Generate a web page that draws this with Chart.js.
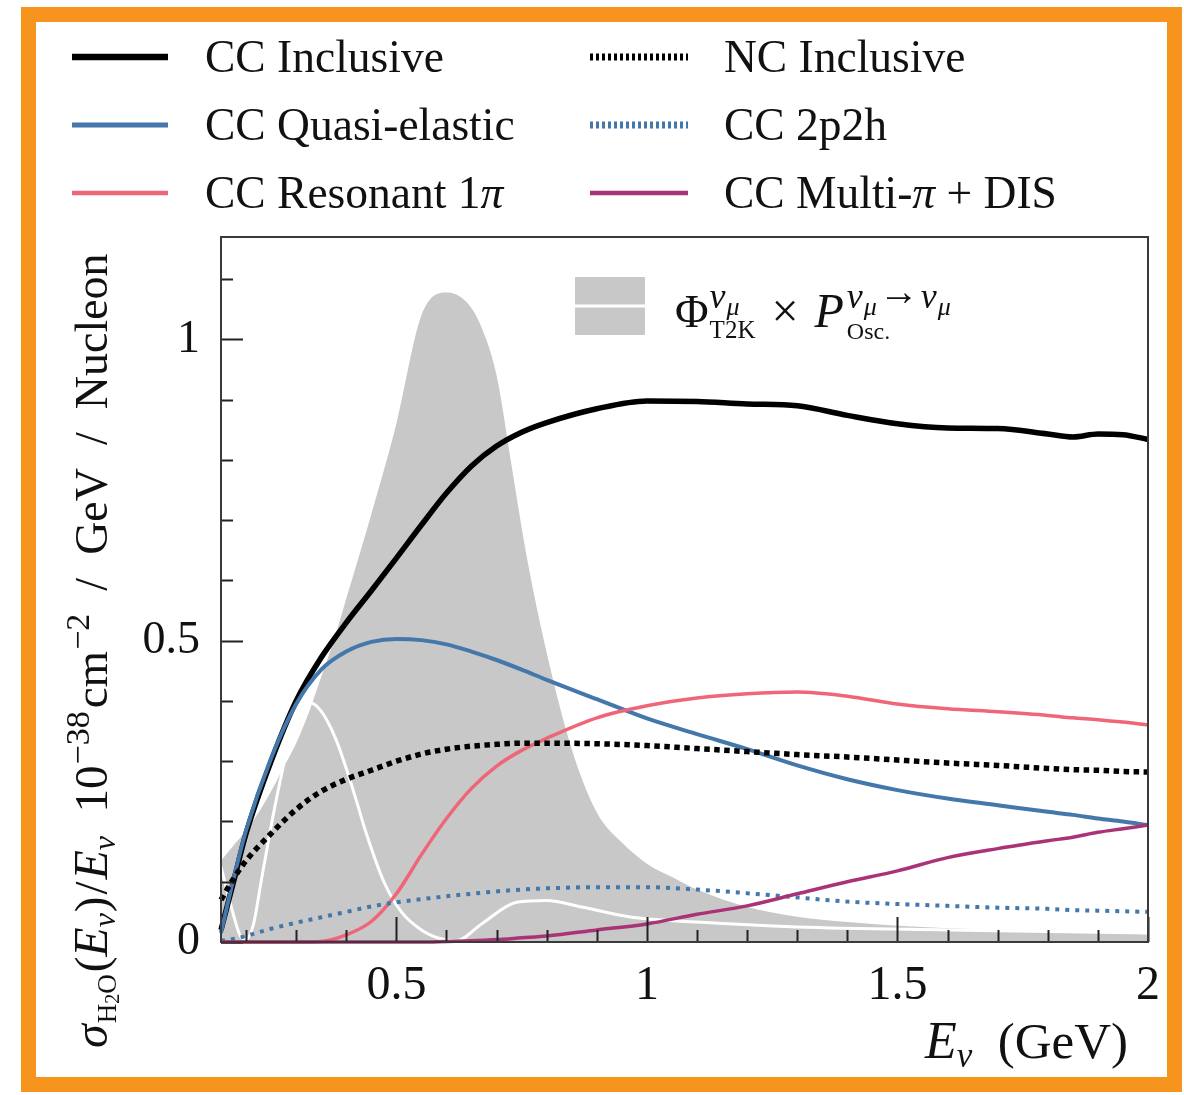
<!DOCTYPE html>
<html>
<head>
<meta charset="utf-8">
<script src="https://cdn.jsdelivr.net/npm/chart.js@4.4.1/dist/chart.umd.min.js"></script>
<style>
    html, body { margin: 0; padding: 0; background: #fff; }
    #frame { position: absolute; left: 21px; top: 7px; width: 1161px; height: 1085px; box-sizing: border-box; border: 15px solid #f7941d; }
    #wrap { position: absolute; left: 0; top: 0; width: 1184px; height: 1095px; }
</style>
</head>
<body>
<div id="frame"></div>
<div id="wrap"><canvas id="xsecChart" width="1184" height="1095"></canvas></div>
<script>
// Cross sections per nucleon on water, divided by E (1e-38 cm^2 / GeV).
const E_XSEC = [0.15, 0.175, 0.2, 0.25, 0.3, 0.35, 0.4, 0.45, 0.5, 0.55, 0.6, 0.65, 0.7, 0.75, 0.8, 0.9,
                1.0, 1.1, 1.2, 1.3, 1.4, 1.5, 1.6, 1.7, 1.8, 1.85, 1.9, 1.95, 2.0];
const CC_INCL  = [0.02, 0.10, 0.18, 0.30, 0.40, 0.472, 0.53, 0.583, 0.637, 0.692, 0.745, 0.79, 0.823, 0.846, 0.862, 0.885,
                  0.898, 0.897, 0.893, 0.89, 0.874, 0.86, 0.853, 0.852, 0.843, 0.838, 0.843, 0.842, 0.834];
const CC_QE    = [0.015, 0.105, 0.185, 0.305, 0.395, 0.452, 0.482, 0.498, 0.503, 0.501, 0.494, 0.482, 0.468, 0.452, 0.435, 0.403,
                  0.371, 0.345, 0.32, 0.293, 0.27, 0.252, 0.238, 0.227, 0.216, 0.211, 0.205, 0.2, 0.194];
const CC_RES   = [0, 0, 0, 0, 0, 0.001, 0.012, 0.034, 0.08, 0.145, 0.205, 0.255, 0.292, 0.318, 0.338, 0.372,
                  0.392, 0.405, 0.412, 0.415, 0.408, 0.395, 0.387, 0.382, 0.376, 0.372, 0.369, 0.365, 0.36];
const NC_INCL  = [0.07, 0.105, 0.135, 0.18, 0.22, 0.25, 0.27, 0.285, 0.3, 0.312, 0.32, 0.325, 0.328, 0.33, 0.33, 0.329,
                  0.326, 0.321, 0.316, 0.311, 0.307, 0.302, 0.297, 0.293, 0.288, 0.286, 0.285, 0.283, 0.282];
const CC_2P2H  = [0.002, 0.005, 0.01, 0.022, 0.032, 0.041, 0.05, 0.059, 0.066, 0.071, 0.076, 0.08, 0.084, 0.087, 0.089, 0.091,
                  0.091, 0.087, 0.081, 0.074, 0.067, 0.063, 0.06, 0.057, 0.055, 0.053, 0.052, 0.051, 0.05];
const CC_MULTI = [0, 0, 0, 0, 0, 0, 0, 0, 0, 0, 0.001, 0.002, 0.004, 0.007, 0.01, 0.02,
                  0.03, 0.046, 0.06, 0.08, 0.1, 0.118, 0.14, 0.155, 0.168, 0.174, 0.182, 0.188, 0.194];

// T2K flux shape (grey) and the oscillated flux (white line), arbitrary normalisation.
const E_FLUX = [0.15, 0.175, 0.2, 0.225, 0.25, 0.275, 0.3, 0.325, 0.35, 0.375, 0.4, 0.45, 0.5, 0.55, 0.6, 0.64,
                0.67, 0.7, 0.73, 0.76, 0.8, 0.85, 0.9, 0.95, 1.0, 1.05, 1.1, 1.2, 1.3, 1.4, 1.5, 1.7, 2.0];
const FLUX   = [0.135, 0.16, 0.185, 0.215, 0.25, 0.29, 0.33, 0.38, 0.44, 0.5, 0.57, 0.71, 0.86, 1.04, 1.078, 1.062,
                1.02, 0.94, 0.79, 0.64, 0.48, 0.32, 0.215, 0.165, 0.13, 0.108, 0.087, 0.058, 0.042, 0.033, 0.027, 0.02, 0.013];
const E_OSC  = [0.15, 0.17, 0.19, 0.2, 0.215, 0.23, 0.26, 0.29, 0.31, 0.328, 0.345, 0.36, 0.38, 0.4, 0.42, 0.44,
                0.475, 0.51, 0.55, 0.59, 0.62, 0.67, 0.74, 0.8, 0.87, 0.97, 1.1, 1.3, 1.6, 2.0];
const OSC    = [0.125, 0.06, 0.008, 0.004, 0.03, 0.1, 0.235, 0.345, 0.385, 0.397, 0.388, 0.37, 0.335, 0.288, 0.235, 0.18,
                0.1, 0.05, 0.02, 0.005, 0.002, 0.03, 0.066, 0.069, 0.058, 0.041, 0.033, 0.025, 0.02, 0.015];

const X_TICKS = [0.2, 0.3, 0.4, 0.5, 0.6, 0.7, 0.8, 0.9, 1.0, 1.1, 1.2, 1.3, 1.4, 1.5, 1.6, 1.7, 1.8, 1.9, 2.0];
const X_MAJOR = [0.5, 1, 1.5, 2];
const X_LABELS = ['0.5', '1', '1.5', '2'];
const Y_TICKS = [0, 0.1, 0.2, 0.3, 0.4, 0.5, 0.6, 0.7, 0.8, 0.9, 1.0, 1.1];
const Y_MAJOR = [0, 0.5, 1];
const Y_LABELS = ['0', '0.5', '1'];

const SERIF = "'Liberation Serif', 'DejaVu Serif', serif";
const BLUE = '#4477aa', RED = '#ee6677', PURPLE = '#aa3377', GREY = '#c8c8c8';

const pts = (xs, ys) => xs.map((x, i) => ({ x, y: ys[i] }));
const near = (arr, v) => arr.findIndex(a => Math.abs(a - v) < 1e-6);

// legend: [column, row, label, dataset index]
const LEGEND = [
    [0, 0, 'CC Inclusive', 2], [0, 1, 'CC Quasi-elastic', 3], [0, 2, 'CC Resonant 1π', 4],
    [1, 0, 'NC Inclusive', 5], [1, 1, 'CC 2p2h', 6], [1, 2, 'CC Multi-π + DIS', 7],
];

function line(label, xs, ys, color, width, dash, order) {
    return {
        label, data: pts(xs, ys), borderColor: color, backgroundColor: color, borderWidth: width,
        borderDash: dash || [], pointRadius: 0, cubicInterpolationMode: 'monotone', fill: false,
        clip: false, order, legendDash: dash,
    };
}

const datasets = [
    { label: 'flux', data: pts(E_FLUX, FLUX), borderWidth: 0, borderColor: 'rgba(0,0,0,0)', backgroundColor: GREY,
      fill: 'origin', pointRadius: 0, cubicInterpolationMode: 'monotone', order: 20 },
    line('osc', E_OSC, OSC, '#ffffff', 3, null, 19),
    line('CC Inclusive', E_XSEC, CC_INCL, '#000000', 5.5, null, 8),
    line('CC Quasi-elastic', E_XSEC, CC_QE, BLUE, 4, null, 7),
    line('CC Resonant 1π', E_XSEC, CC_RES, RED, 3.5, null, 6),
    line('NC Inclusive', E_XSEC, NC_INCL, '#000000', 5.5, [5.5, 4.5], 5),
    line('CC 2p2h', E_XSEC, CC_2P2H, BLUE, 4, [4, 6], 4),
    line('CC Multi-π + DIS', E_XSEC, CC_MULTI, PURPLE, 3.5, null, 3),
];

// Draw a run of text pieces (sub/superscripts) from (x, y); returns the width.
function drawRich(ctx, x, y, parts, measureOnly) {
    let cx = x, mark = x, supEnd = x;
    parts.forEach(p => {
        if (p.mark) mark = cx;
        if (p.back) { supEnd = cx; cx = mark; }
        ctx.font = (p.it ? 'italic ' : '') + p.size + 'px ' + SERIF;
        if (!measureOnly) ctx.fillText(p.t, cx, y + (p.dy || 0));
        cx += ctx.measureText(p.t).width + (p.gap || 0);
        if (p.back) cx = Math.max(cx, supEnd);
    });
    return cx - x;
}

function textParts(label, size) {
    const out = [];
    label.split('π').forEach((s, i) => {
        if (i > 0) out.push({ t: 'π', it: true, size });
        if (s) out.push({ t: s, size });
    });
    return out;
}

const decor = {
    id: 'decor',
    afterDatasetsDraw(chart) {
        const { ctx, chartArea: a, scales: { x, y } } = chart;
        ctx.save();
        ctx.strokeStyle = '#222';
        ctx.lineWidth = 2;
        ctx.beginPath();
        X_TICKS.forEach(v => {
            const px = Math.round(x.getPixelForValue(v)) + 0.5;
            const len = near(X_MAJOR, v) >= 0 ? 25 : 12;
            ctx.moveTo(px, a.bottom); ctx.lineTo(px, a.bottom - len);
        });
        Y_TICKS.forEach(v => {
            const py = Math.round(y.getPixelForValue(v)) + 0.5;
            const len = near(Y_MAJOR, v) >= 0 ? 22 : 12;
            ctx.moveTo(a.left, py); ctx.lineTo(a.left + len, py);
        });
        ctx.stroke();
        ctx.strokeStyle = '#3a3a3a';
        ctx.strokeRect(a.left, a.top, a.right - a.left, a.bottom - a.top);
        ctx.restore();
    },
    afterDraw(chart) {
        const { ctx } = chart;
        const ds = chart.data.datasets;
        ctx.save();
        ctx.fillStyle = '#111';
        ctx.textBaseline = 'alphabetic';

        // top legend, two columns of three
        const colLine = [[72, 168], [590, 688]], colText = [205, 724], rowY = [57, 125, 193];
        LEGEND.forEach(([c, r, label, idx]) => {
            const d = ds[idx];
            const yy = rowY[r];
            ctx.strokeStyle = d.borderColor;
            ctx.lineWidth = d.legendDash ? 7 : d.borderWidth + 1;
            ctx.setLineDash(d.legendDash ? [3, 3] : []);
            ctx.beginPath();
            ctx.moveTo(colLine[c][0], yy); ctx.lineTo(colLine[c][1], yy);
            ctx.stroke();
            ctx.setLineDash([]);
            drawRich(ctx, colText[c], yy + 15, textParts(label, 45.5));
        });

        // flux legend inside the plot
        ctx.fillStyle = ds[0].backgroundColor;
        ctx.fillRect(575, 277, 70, 58);
        ctx.strokeStyle = ds[1].borderColor;
        ctx.lineWidth = 3;
        ctx.beginPath(); ctx.moveTo(575, 306); ctx.lineTo(645, 306); ctx.stroke();
        ctx.fillStyle = '#111';
        drawRich(ctx, 675, 327, [
            { t: 'Φ', size: 46, gap: 1 },
            { t: 'ν', it: true, size: 36, dy: -19, mark: true, gap: 1 }, { t: 'μ', it: true, size: 26, dy: -12 },
            { t: 'T2K', size: 25, dy: 11, back: true, gap: 4 },
            { t: ' × ', size: 48, gap: 4 },
            { t: 'P', it: true, size: 48, gap: 3 },
            { t: 'ν', it: true, size: 36, dy: -19, mark: true, gap: 1 }, { t: 'μ', it: true, size: 26, dy: -12, gap: 2 },
            { t: '→', size: 40, dy: -22, gap: 2 },
            { t: 'ν', it: true, size: 36, dy: -19, gap: 1 }, { t: 'μ', it: true, size: 26, dy: -12 },
            { t: 'Osc.', size: 24, dy: 12, back: true },
        ]);

        // x title, right-aligned
        const xt = [{ t: 'E', it: true, size: 52 }, { t: 'ν', it: true, size: 35, dy: 9 }, { t: '  (GeV)', size: 51 }];
        const w = drawRich(ctx, 0, 0, xt, true);
        drawRich(ctx, 1128 - w, 1058, xt);

        // y title, rotated
        ctx.translate(107, 1048);
        ctx.rotate(-Math.PI / 2);
        drawRich(ctx, 0, 0, [
            { t: 'σ', it: true, size: 48, gap: 1 },
            { t: 'H', size: 27, dy: 9 }, { t: '2', size: 20, dy: 12 }, { t: 'O', size: 27, dy: 9, gap: 2 },
            { t: '(', size: 47 }, { t: 'E', it: true, size: 48 }, { t: 'ν', it: true, size: 32, dy: 8, gap: 1 }, { t: ')', size: 47, gap: 2 },
            { t: '/', size: 47, gap: 2 }, { t: 'E', it: true, size: 48 }, { t: 'ν', it: true, size: 32, dy: 8 },
            { t: '  10', size: 47, gap: 1 }, { t: '−38', size: 34, dy: -18, gap: 3 }, { t: 'cm', size: 47, gap: 1 }, { t: '−2', size: 34, dy: -18 },
            { t: '  /  GeV  /  Nucleon', size: 46 },
        ]);
        ctx.restore();
    },
};

new Chart(document.getElementById('xsecChart'), {
    type: 'line',
    data: { datasets },
    options: {
        responsive: false,
        animation: false,
        devicePixelRatio: 1,
        layout: { padding: { top: 237, right: 36, left: 0, bottom: 0 } },
        plugins: { legend: { display: false }, tooltip: { enabled: false } },
        scales: {
            x: {
                type: 'linear', min: 0.15, max: 2.0,
                grid: { display: false, drawTicks: false },
                border: { display: false },
                afterBuildTicks: s => { s.ticks = X_TICKS.map(v => ({ value: v })); },
                afterFit: s => { s.height = 153; },
                ticks: {
                    autoSkip: false, maxRotation: 0, padding: 16, color: '#111',
                    font: { family: SERIF, size: 48 },
                    callback: v => { const i = near(X_MAJOR, v); return i >= 0 ? X_LABELS[i] : ''; },
                },
            },
            y: {
                min: 0, max: 1.17,
                grid: { display: false, drawTicks: false },
                border: { display: false },
                afterBuildTicks: s => { s.ticks = Y_TICKS.map(v => ({ value: v })); },
                afterFit: s => { s.width = 221; },
                ticks: {
                    autoSkip: false, padding: 21, color: '#111',
                    font: { family: SERIF, size: 46 },
                    callback: v => { const i = near(Y_MAJOR, v); return i >= 0 ? Y_LABELS[i] : ''; },
                },
            },
        },
    },
    plugins: [decor],
});
</script>
</body>
</html>
